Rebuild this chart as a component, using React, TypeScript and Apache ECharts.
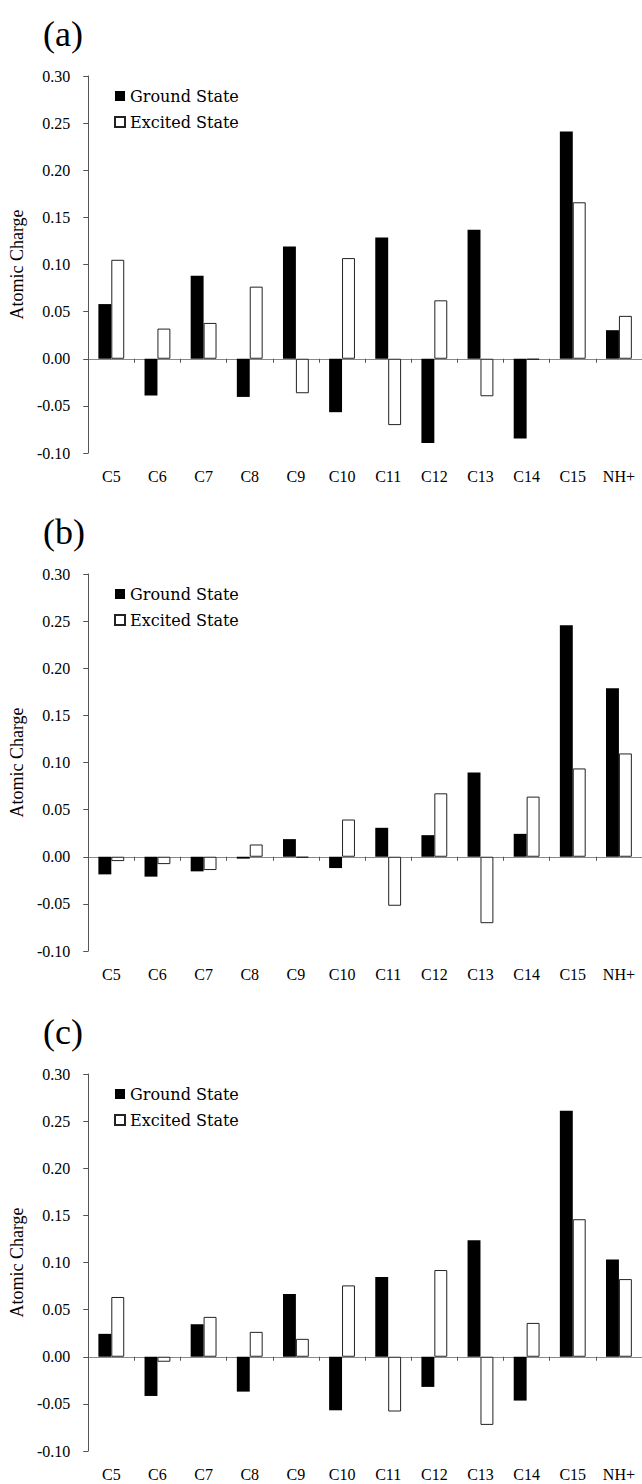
import React, { useEffect, useRef } from "react";
import * as echarts from "echarts";

const categories = ["C5", "C6", "C7", "C8", "C9", "C10", "C11", "C12", "C13", "C14", "C15", "NH+"];
const panelLabels = ["(a)", "(b)", "(c)"];
const seriesNames = ["Ground State", "Excited State"];

const groundA = [0.058, -0.039, 0.088, -0.0405, 0.119, -0.0567, 0.1287, -0.0895, 0.137, -0.0846, 0.241, 0.0303];
const excitedA = [0.105, 0.032, 0.038, 0.0765, -0.0366, 0.1068, -0.0704, 0.062, -0.0398, -0.001, 0.166, 0.0455];

const groundB = [-0.0187, -0.0211, -0.0155, -0.002, 0.0187, -0.012, 0.0307, 0.0229, 0.0895, 0.0243, 0.2456, 0.1787];
const excitedB = [-0.0046, -0.0078, -0.0141, 0.013, -0.001, 0.0395, -0.052, 0.0673, -0.0705, 0.0638, 0.0937, 0.1096];

const groundC = [0.0243, -0.0416, 0.0345, -0.037, 0.0666, -0.0568, 0.0846, -0.032, 0.1237, -0.0465, 0.261, 0.1032];
const excitedC = [0.0634, -0.0053, 0.0423, 0.0264, 0.019, 0.0757, -0.0581, 0.092, -0.0723, 0.0359, 0.1459, 0.0824];

const yMin = -0.1;
const yMax = 0.3;
const yInterval = 0.05;

const panels = [
  { label: panelLabels[0], ground: groundA, excited: excitedA },
  { label: panelLabels[1], ground: groundB, excited: excitedB },
  { label: panelLabels[2], ground: groundC, excited: excitedC },
];

const FONT = "'Liberation Serif', 'Times New Roman', serif";
const LEGEND_FONT = "'DejaVu Serif', 'Liberation Serif', serif";
const plotTops = [76, 574, 1074];
const plotHeight = 377;

export default function App() {
  const ref = useRef<HTMLDivElement>(null);

  useEffect(() => {
    if (!ref.current) return;
    const chart = echarts.init(ref.current, undefined, { renderer: "svg" });

    const grids: any[] = [];
    const xAxes: any[] = [];
    const yAxes: any[] = [];
    const series: any[] = [];
    const legends: any[] = [];
    const titles: any[] = [];

    panels.forEach((p, i) => {
      const top = plotTops[i];
      grids.push({ left: 86, top, width: 556, height: plotHeight, containLabel: false });
      titles.push({
        text: p.label,
        left: 43,
        top: top - 60,
        padding: 0,
        textStyle: { fontFamily: FONT, fontSize: 36, fontWeight: "normal", color: "#000" },
      });
      legends.push({
        data: seriesNames,
        orient: "vertical",
        left: 114,
        top: top + 11,
        padding: 0,
        itemWidth: 10,
        itemHeight: 10,
        itemGap: 8,
        icon: "rect",
        selectedMode: false,
        textStyle: { fontFamily: LEGEND_FONT, fontSize: 16, color: "#000", lineHeight: 18 },
      });
      // label axis at the bottom
      xAxes.push({
        type: "category",
        gridIndex: i,
        data: categories,
        position: "bottom",
        axisLine: { show: false, onZero: false },
        axisTick: { show: false },
        axisLabel: { fontFamily: FONT, fontSize: 16, color: "#000", margin: 15 },
      });
      // zero line axis
      xAxes.push({
        type: "category",
        gridIndex: i,
        data: categories,
        position: "top",
        axisLine: { show: true, onZero: true, onZeroAxisIndex: i, lineStyle: { color: "#888", width: 1 } },
        axisTick: { show: true, inside: true, length: 4, lineStyle: { color: "#555" } },
        axisLabel: { show: false },
      });
      yAxes.push({
        type: "value",
        gridIndex: i,
        min: yMin,
        max: yMax,
        interval: yInterval,
        name: "Atomic Charge",
        nameLocation: "middle",
        nameRotate: 90,
        nameGap: 60,
        nameTextStyle: { fontFamily: FONT, fontSize: 18, color: "#000" },
        axisLine: { show: true, lineStyle: { color: "#555", width: 1 } },
        axisTick: { show: true, length: 5, lineStyle: { color: "#555" } },
        axisLabel: {
          fontFamily: FONT,
          fontSize: 16,
          color: "#000",
          margin: 18,
          formatter: (v: number) => v.toFixed(2),
        },
        splitLine: { show: false },
      });
      series.push({
        name: seriesNames[0],
        type: "bar",
        xAxisIndex: 2 * i,
        yAxisIndex: i,
        data: p.ground,
        barGap: "0%",
        barCategoryGap: "44%",
        itemStyle: { color: "#000", borderColor: "#000", borderWidth: 0 },
      });
      series.push({
        name: seriesNames[1],
        type: "bar",
        xAxisIndex: 2 * i,
        yAxisIndex: i,
        data: p.excited,
        barGap: "0%",
        barCategoryGap: "44%",
        itemStyle: { color: "#fff", borderColor: "#222", borderWidth: 1 },
      });
    });

    chart.setOption({
      animation: false,
      backgroundColor: "#fff",
      textStyle: { fontFamily: FONT },
      title: titles,
      legend: legends,
      grid: grids,
      xAxis: xAxes,
      yAxis: yAxes,
      series,
    });

    return () => chart.dispose();
  }, []);

  return (
    <div
      ref={ref}
      style={{ position: "absolute", left: 0, top: 0, width: 642, height: 1484, background: "#fff" }}
    />
  );
}
